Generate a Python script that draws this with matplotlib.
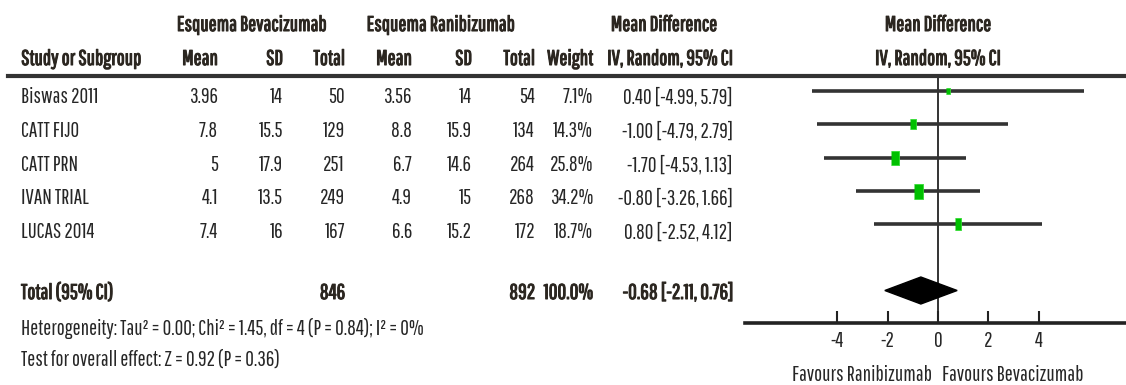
import matplotlib
matplotlib.use('Agg')
import matplotlib.pyplot as plt
import matplotlib.patheffects as pe
from matplotlib.lines import Line2D
from matplotlib.patches import Polygon

plt.rcParams['font.family'] = ['Pathway Gothic One', 'DejaVu Sans']

studies = ['Biswas 2011', 'CATT FIJO', 'CATT PRN', 'IVAN TRIAL', 'LUCAS 2014']
bev_mean = [3.96, 7.8, 5, 4.1, 7.4]
bev_sd = [14, 15.5, 17.9, 13.5, 16]
bev_n = [50, 129, 251, 249, 167]
ran_mean = [3.56, 8.8, 6.7, 4.9, 6.6]
ran_sd = [14, 15.9, 14.6, 15, 15.2]
ran_n = [54, 134, 264, 268, 172]
weight = [7.1, 14.3, 25.8, 34.2, 18.7]
md = [0.40, -1.00, -1.70, -0.80, 0.80]
ci_lo = [-4.99, -4.79, -4.53, -3.26, -2.52]
ci_hi = [5.79, 2.79, 1.13, 1.66, 4.12]

tot_bev_n = 846
tot_ran_n = 892
tot_weight = 100.0
tot_md = -0.68
tot_lo = -2.11
tot_hi = 0.76

heterogeneity = 'Heterogeneity: Tau\u00b2 = 0.00; Chi\u00b2 = 1.45, df = 4 (P = 0.84); I\u00b2 = 0%'
overall = 'Test for overall effect: Z = 0.92 (P = 0.36)'
xticks = [-4, -2, 0, 2, 4]

W, H = 1126, 385
fig = plt.figure(figsize=(W / 100, H / 100), dpi=100)
fig.patch.set_facecolor('white')

FS = 15.3
TXT = '#262626'
HDR = '#2b2620'
thick = [pe.withStroke(linewidth=0.75, foreground=HDR)]


def put(x, y, s, ha='left', bold=False):
    # x, y in pixels from top-left
    t = fig.text(x / W, 1 - y / H, s, ha=ha, va='center', fontsize=FS,
                 color=HDR if bold else TXT)
    if bold:
        t.set_path_effects(thick)
    return t


# header
put(252, 25, 'Esquema Bevacizumab', 'center', True)
put(441, 25, 'Esquema Ranibizumab', 'center', True)
put(664, 25, 'Mean Difference', 'center', True)
put(938, 25, 'Mean Difference', 'center', True)
put(21, 59, 'Study or Subgroup', 'left', True)
cols = [218, 283, 345, 412, 472, 535, 593]
for x, s in zip(cols, ['Mean', 'SD', 'Total', 'Mean', 'SD', 'Total', 'Weight']):
    put(x, 59, s, 'right', True)
put(733, 59, 'IV, Random, 95% CI', 'right', True)
put(938, 59, 'IV, Random, 95% CI', 'center', True)
fig.add_artist(Line2D([8 / W, 1], [1 - 75.5 / H] * 2, color='#333333', lw=3,
                      transform=fig.transFigure))

# rows
row_y = [97, 131, 165, 198, 232]
for i, y in enumerate(row_y):
    put(21, y, studies[i])
    put(218, y, f'{bev_mean[i]:g}', 'right')
    put(283, y, f'{bev_sd[i]:g}', 'right')
    put(345, y, f'{bev_n[i]}', 'right')
    put(412, y, f'{ran_mean[i]:g}', 'right')
    put(472, y, f'{ran_sd[i]:g}', 'right')
    put(535, y, f'{ran_n[i]}', 'right')
    put(593, y, f'{weight[i]:.1f}%', 'right')
    put(733, y, f'{md[i]:.2f} [{ci_lo[i]:.2f}, {ci_hi[i]:.2f}]', 'right')

put(21, 293, 'Total (95% CI)', 'left', True)
put(345, 293, f'{tot_bev_n}', 'right', True)
put(535, 293, f'{tot_ran_n}', 'right', True)
put(593, 293, f'{tot_weight:.1f}%', 'right', True)
put(733, 293, f'{tot_md:.2f} [{tot_lo:.2f}, {tot_hi:.2f}]', 'right', True)
put(21, 328, heterogeneity)
put(21, 360, overall)

# forest panel
x0, x1, ytop, ybot = 745, 1126, 75, 323
ax = fig.add_axes([x0 / W, 1 - ybot / H, (x1 - x0) / W, (ybot - ytop) / H])
ppu = 25.2
zero = 938
ax.set_xlim((x0 - zero) / ppu, (x1 - zero) / ppu)
ax.set_ylim(1 + (ybot - 91) / 33.25, 1 + (ytop - 91) / 33.25)
ax.patch.set_alpha(0)
for s in ['top', 'left', 'right']:
    ax.spines[s].set_visible(False)
ax.spines['bottom'].set_linewidth(2.6)
ax.spines['bottom'].set_color('#222222')
ax.set_yticks([])
ax.set_xticks(xticks)
ax.set_xticklabels([f'{t}' for t in xticks])
ax.tick_params(axis='x', direction='in', length=9, width=1.5, color='#222222',
               labelsize=FS, labelcolor=TXT, pad=6)

ax.axvline(0, color='#111111', lw=1.2, zorder=1)
ypos = [1, 2, 3, 4, 5]
wmax = max(weight)
for i in range(len(studies)):
    ax.plot([ci_lo[i], ci_hi[i]], [ypos[i], ypos[i]], color='#333333', lw=2.6,
            solid_capstyle='butt', zorder=2)
    h = 15 * (weight[i] / wmax) ** 0.5
    ax.plot(md[i], ypos[i], marker=[(-0.3, -0.5), (0.3, -0.5), (0.3, 0.5), (-0.3, 0.5)],
            markersize=h * 0.72, color='#00c000', markeredgecolor='#33dd33',
            markeredgewidth=0.6, zorder=3)

yd = 7
dh = 13.5 / 33.25
ax.add_patch(Polygon([[tot_lo, yd], [tot_md, yd - dh], [tot_hi, yd], [tot_md, yd + dh]],
                     closed=True, color='black', zorder=3))

put(862, 375, 'Favours Ranibizumab', 'center')
put(1013, 375, 'Favours Bevacizumab', 'center')

fig.savefig('out.png', dpi=100, facecolor='white')
